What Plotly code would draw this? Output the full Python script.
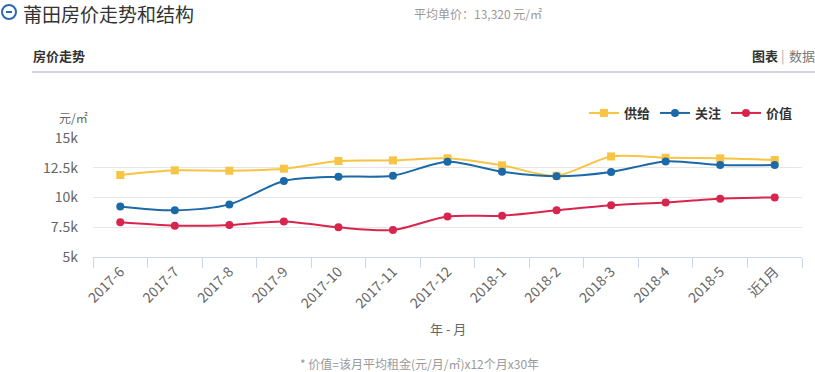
import plotly.graph_objects as go

# ---- data ----
months = ["2017-6", "2017-7", "2017-8", "2017-9", "2017-10", "2017-11", "2017-12",
          "2018-1", "2018-2", "2018-3", "2018-4", "2018-5", "近1月"]
supply = [11890, 12280, 12250, 12420, 13070, 13120, 13290, 12700, 11830, 13450, 13340, 13290, 13150]
attention = [9250, 8920, 9420, 11390, 11750, 11830, 13010, 12170, 11780, 12140, 13030, 12730, 12730]
value = [7910, 7630, 7690, 7990, 7490, 7270, 8410, 8470, 8920, 9340, 9590, 9900, 10010]
y_tickvals = [5000, 7500, 10000, 12500, 15000]
y_ticktext = ["5k", "7.5k", "10k", "12.5k", "15k"]

W, H = 815, 372
L, R, T, B = 93, 802, 138, 257   # plot area in window pixels
FONT = "Noto Sans CJK SC, Microsoft YaHei, sans-serif"

def px(x):
    return (x - L) / (R - L)

def py(y):
    return (B - y) / (B - T)

YELLOW = "#f7c443"
BLUE = "#1b69a8"
RED = "#d8254e"

fig = go.Figure()
fig.add_trace(go.Scatter(x=months, y=supply, name="<b>供给</b>", mode="lines+markers",
                         line=dict(color=YELLOW, width=2, shape="spline", smoothing=0.8),
                         marker=dict(symbol="square", size=8, color=YELLOW)))
fig.add_trace(go.Scatter(x=months, y=attention, name="<b>关注</b>", mode="lines+markers",
                         line=dict(color=BLUE, width=2, shape="spline", smoothing=0.8),
                         marker=dict(symbol="circle", size=8, color=BLUE)))
fig.add_trace(go.Scatter(x=months, y=value, name="<b>价值</b>", mode="lines+markers",
                         line=dict(color=RED, width=2, shape="spline", smoothing=0.8),
                         marker=dict(symbol="circle", size=8, color=RED)))

fig.update_layout(
    width=W, height=H,
    margin=dict(l=L, r=W - R, t=T, b=H - B),
    paper_bgcolor="white", plot_bgcolor="white",
    font=dict(family=FONT, color="#666", size=12),
    showlegend=True,
    legend=dict(orientation="h", x=px(797), xanchor="right", y=py(113), yanchor="middle",
                font=dict(size=13, color="#333"), itemwidth=30, entrywidth=26,
                bgcolor="rgba(0,0,0,0)"),
    xaxis=dict(type="category", showgrid=False, showline=True, linecolor="#ccd6eb", linewidth=1,
               ticks="outside", ticklen=10, tickcolor="#ccd6eb", tickson="boundaries",
               tickangle=-45, tickfont=dict(size=14, color="#666"), zeroline=False,
               range=[-0.5, 12.5], fixedrange=True),
    yaxis=dict(range=[5000, 15000], tickvals=y_tickvals, ticktext=y_ticktext,
               showgrid=True, gridcolor="#e6e6e6", gridwidth=1, zeroline=False,
               showline=False, ticks="", tickfont=dict(size=14, color="#666"),
               ticklabelstandoff=14, fixedrange=True),
)

ann = []
def text(x, y, s, size=12, color="#666", xanchor="left", yanchor="middle"):
    ann.append(dict(x=px(x), y=py(y), xref="paper", yref="paper", text=s, showarrow=False,
                    xanchor=xanchor, yanchor=yanchor, font=dict(size=size, color=color, family=FONT)))

text(21, 13, "莆田房价走势和结构", size=19, color="#333")
text(412, 13, "平均单价：13,320 元/㎡", size=12, color="#999")
text(31, 55, "<b>房价走势</b>", size=13, color="#333")
text(780, 55, "<b>图表</b>", size=13, color="#333", xanchor="right")
text(783, 55, "|", size=13, color="#aaa", xanchor="center")
text(787, 55, "数据", size=13, color="#777", xanchor="left")
text(57, 117, "元/㎡", size=12, color="#666")
text(448, 328, "年 - 月", size=13, color="#666", xanchor="center")
text(419, 363, "* 价值=该月平均租金(元/月/㎡)x12个月x30年", size=12, color="#999", xanchor="center")
fig.update_layout(annotations=ann)

shapes = [
    dict(type="line", xref="paper", yref="paper", x0=px(32), x1=px(815), y0=py(72), y1=py(72),
         line=dict(color="#d4d4dc", width=2)),
    dict(type="circle", xref="paper", yref="paper", x0=px(2), x1=px(16), y0=py(5), y1=py(19),
         line=dict(color="#2f67b1", width=2)),
    dict(type="line", xref="paper", yref="paper", x0=px(6), x1=px(12), y0=py(12), y1=py(12),
         line=dict(color="#2f67b1", width=2)),
]
fig.update_layout(shapes=shapes)

# remove the page's default 8px body margin so the figure fills the window exactly
fig.write_html("out.html", config={"displayModeBar": False},
               post_script="document.body.style.margin='0';")
